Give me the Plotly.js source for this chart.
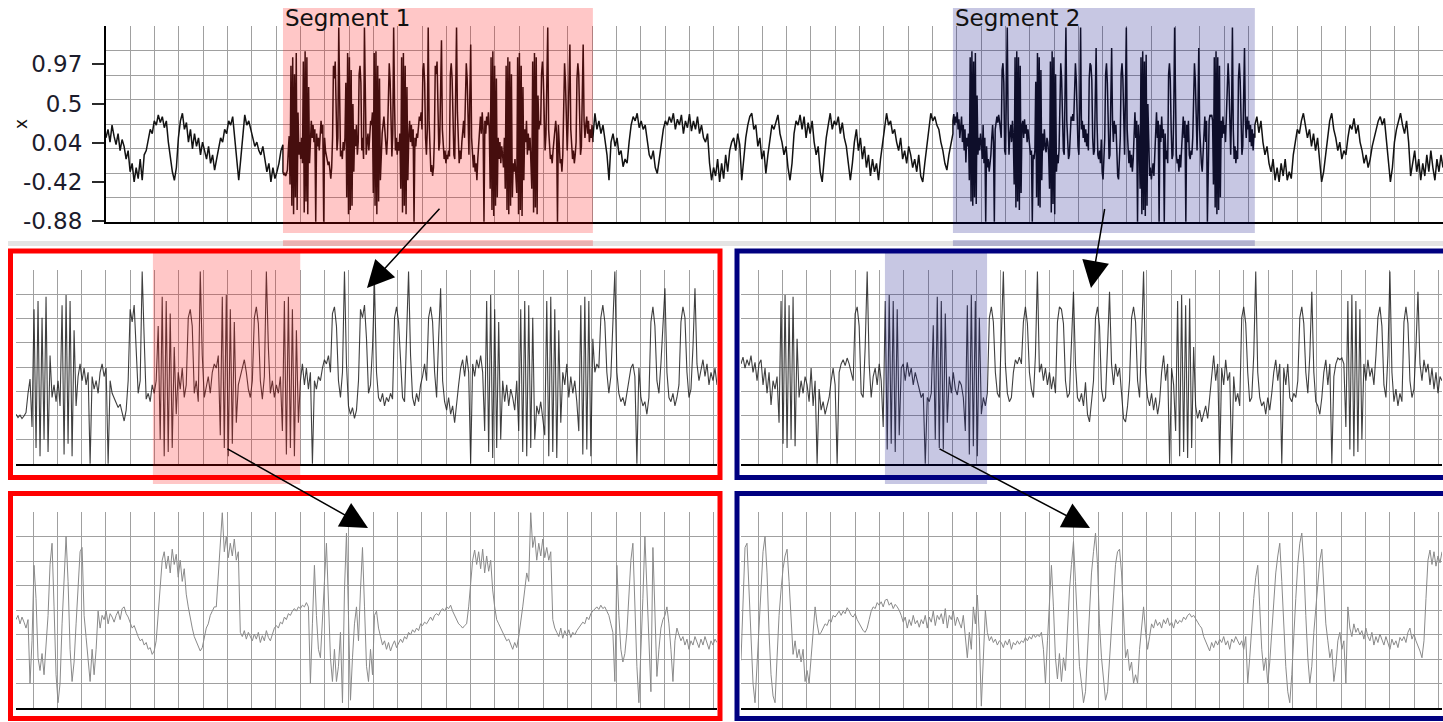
<!DOCTYPE html>
<html><head><meta charset="utf-8">
<script src="https://cdn.plot.ly/plotly-3.0.1.min.js"></script>
<style>html,body{margin:0;padding:0;background:#fff;overflow:hidden}#chart{width:1443px;height:722px}</style>
</head><body><div id="chart"></div>
<script>
// ---------------- DATA ----------------
// y tick labels of the overview panel
const yTickVals = [-0.88, -0.42, 0.04, 0.5, 0.97];
const yTickText = ['-0.88', '-0.42', '0.04', '0.5', '0.97'];

// segment / sub-segment time bounds (time units of the overview axis)
const seg1 = [7.28, 20.03];
const seg2 = [34.84, 47.26];
const sub1 = [9.77, 12.45];
const sub2 = [37.39, 39.20];
const T_END = 55;

// quiet stretches of the overview signal
const quietA = [0.10,0.20,0.05,0.25,0.12,0.02,0.15,-0.05,0.08,0.00,
-0.15,-0.05,-0.30,-0.20,-0.42,-0.25,-0.38,-0.15,-0.40,-0.10,
-0.05,0.10,0.20,0.15,0.30,0.25,0.37,0.28,0.35,0.22,
0.30,0.05,-0.15,-0.30,-0.40,-0.25,0.10,0.30,0.39,0.20,
0.28,0.05,0.20,-0.03,0.15,0.00,0.10,-0.10,0.05,-0.05,
-0.15,0.00,-0.20,-0.10,-0.28,-0.15,0.00,0.10,0.05,0.20,
0.15,0.30,0.25,0.35,0.10,-0.20,-0.40,-0.15,0.10,0.37,
0.25,0.30,0.20,0.10,0.00,0.05,-0.05,-0.10,0.00,-0.15,
-0.30,-0.20,-0.42,-0.25,-0.38,-0.30,-0.20,-0.05,0.02];

const quietB = [0.10,0.39,0.20,0.30,0.15,0.25,0.07,-0.10,-0.40,0.05,
0.15,0.00,0.10,-0.10,-0.05,-0.24,-0.15,-0.20,0.05,0.25,
0.35,0.30,0.39,0.22,0.30,0.20,0.25,0.05,-0.10,-0.15,
-0.05,-0.25,-0.32,-0.15,0.05,0.20,0.30,0.25,0.35,0.28,
0.39,0.20,0.32,0.25,0.37,0.15,0.30,0.22,0.38,0.18,
0.30,0.20,0.35,0.15,0.25,0.10,0.05,0.15,-0.20,-0.40,
-0.25,-0.35,-0.15,-0.42,-0.20,-0.38,-0.10,-0.30,-0.05,0.05,
0.10,-0.05,0.15,0.02,-0.40,-0.10,0.10,0.25,0.35,0.39,
0.20,0.25,0.00,0.10,-0.15,-0.05,-0.32,-0.10,0.10,0.25,
0.20,0.30,0.37,0.15,0.05,-0.10,0.00,-0.25,-0.40,-0.20,
0.15,0.30,0.25,0.37,0.20,0.35,0.10,0.28,0.15,0.30,
0.05,-0.10,0.00,-0.30,-0.42,-0.15,0.10,0.25,0.39,0.20,
0.30,0.25,0.35,0.15,0.28,0.10,0.00,-0.20,-0.40,-0.20,
0.05,0.20,-0.05,0.10,-0.15,0.00,-0.25,-0.10,-0.35,-0.15,
-0.30,-0.20,-0.40,-0.15,0.05,0.20,0.39,0.25,0.30,0.15,
0.20,0.05,-0.05,0.10,-0.15,-0.05,-0.20,0.00,-0.10,-0.25,
-0.15,-0.30,-0.10,-0.35,-0.42,-0.20,0.00,0.20,0.39,0.30,
0.35,0.25,0.20,0.05,-0.05,-0.20,-0.28,-0.10,0.05,0.15];

const quietC = [0.25,0.35,0.16,0.30,0.05,-0.10,0.00,-0.20,-0.30,-0.15,
-0.40,-0.25,-0.42,-0.20,-0.35,-0.15,-0.40,-0.30,-0.38,-0.10,
0.05,0.20,0.15,0.30,0.39,0.25,0.10,0.20,0.00,0.15,
-0.05,0.10,-0.20,-0.42,-0.30,-0.10,0.15,0.30,0.39,0.20,
0.10,-0.05,0.05,-0.15,-0.05,-0.10,0.10,0.25,0.20,0.33,
0.15,0.25,0.05,-0.05,-0.20,-0.10,-0.25,-0.15,0.00,0.10,
0.20,0.30,0.35,0.25,0.33,0.10,-0.20,-0.42,-0.25,0.05,
0.20,0.30,0.39,0.25,0.15,0.30,0.05,-0.35,-0.20,-0.05,
-0.30,-0.15,-0.40,-0.20,-0.35,-0.10,-0.30,-0.05,-0.25,-0.40,-0.15,-0.30,-0.10,-0.25];

// Segment 1 in detail (middle-left panel)
const seg1Detail = [-0.30,-0.34,-0.31,-0.35,-0.32,-0.28,-0.05,0.12,-0.45,0.95,
-0.70,1.05,-0.80,0.85,-0.60,1.10,-0.75,0.40,-0.10,0.05,
-0.15,0.10,-0.20,1.00,-0.78,1.12,-0.65,1.05,-0.80,0.70,
-0.20,0.15,0.30,0.10,0.25,0.05,0.20,-0.89,0.15,0.00,
0.10,-0.05,0.20,0.30,0.15,0.25,-0.89,0.10,-0.05,-0.10,
-0.15,-0.22,-0.18,-0.30,-0.38,-0.25,0.10,0.95,0.80,1.00,
0.40,-0.05,0.10,1.40,0.60,-0.12,-0.05,-0.15,0.05,-0.05,
0.10,0.75,-0.60,1.10,-0.80,1.05,-0.75,0.90,-0.70,0.50,
-0.30,0.20,0.00,0.25,-0.10,0.05,0.85,0.95,0.75,-0.05,
0.10,-0.15,1.40,0.40,-0.10,0.05,0.15,-0.05,0.20,0.30,
0.25,0.40,-0.55,1.10,-0.70,1.12,-0.80,0.95,-0.65,0.80,
-0.40,0.05,0.15,0.25,0.35,0.20,0.00,-0.10,0.10,0.85,
0.98,0.78,0.10,-0.12,0.15,1.40,0.50,-0.05,0.10,-0.10,
0.05,-0.05,0.15,-0.50,1.05,-0.78,1.10,-0.70,0.95,-0.80,
0.70,-0.40,0.10,0.30,0.05,0.25,0.00,0.20,-0.89,0.10,
0.00,0.15,0.10,0.25,0.35,0.30,0.40,0.20,0.90,0.98,
0.75,0.10,-0.10,0.20,1.40,0.30,-0.20,-0.30,-0.22,-0.35,
-0.25,0.10,0.95,0.85,1.00,0.60,-0.05,0.05,0.50,1.25,
0.20,-0.10,-0.15,-0.05,-0.20,-0.10,-0.15,-0.05,-0.12,0.85,
0.98,0.80,0.30,-0.10,-0.15,0.60,1.40,0.40,-0.10,-0.20,
-0.05,-0.15,0.05,0.15,0.30,0.10,0.85,0.98,0.80,0.20,
-0.10,0.60,1.20,0.10,-0.15,-0.25,-0.10,-0.30,-0.20,-0.40,
-0.15,0.05,0.25,0.35,0.15,0.40,0.20,-0.89,0.30,0.15,
0.35,0.25,0.40,0.20,-0.50,1.05,-0.75,1.12,-0.82,0.95,
-0.70,0.80,-0.60,0.10,-0.15,0.05,-0.20,0.00,-0.10,-0.25,
0.10,-0.50,0.95,-0.75,1.05,-0.80,1.00,-0.70,0.85,-0.60,
-0.20,-0.30,-0.15,-0.35,-0.55,1.05,-0.80,1.10,-0.75,0.95,
-0.82,0.70,-0.40,0.20,0.05,0.30,-0.10,0.15,-0.05,0.10,
-0.15,-0.50,1.00,-0.78,1.10,-0.72,1.05,-0.80,0.60,0.20,
0.30,0.25,0.85,1.00,0.80,0.20,-0.05,0.15,0.70,1.40,
0.20,-0.05,-0.15,-0.10,-0.20,-0.05,0.10,0.25,0.30,0.15,
-0.89,0.25,-0.10,-0.20,-0.15,-0.30,-0.10,0.80,0.98,0.75,
0.10,-0.05,0.30,0.70,1.20,0.20,-0.10,-0.15,-0.05,-0.20,
-0.10,0.05,0.80,0.98,0.85,0.20,-0.10,0.00,0.50,1.20,
0.30,0.10,0.25,0.35,0.15,0.30,0.05,0.20,0.10,0.25,0.05];

// Segment 2 in detail (middle-right panel)
const seg2Detail = [0.30,0.38,0.25,0.35,0.28,0.40,0.20,0.32,0.10,0.30,
0.35,0.05,0.25,-0.05,0.20,-0.19,0.10,0.00,0.15,-0.40,
1.05,-0.65,1.12,-0.70,1.00,-0.60,1.10,-0.68,0.60,-0.10,
0.10,-0.05,0.15,0.05,-0.15,0.25,-0.20,0.10,-0.89,0.00,
-0.25,-0.15,-0.30,-0.20,-0.10,0.10,0.25,0.05,-0.89,0.20,
0.30,0.35,0.28,0.37,0.30,0.20,0.10,0.90,0.98,0.75,
-0.05,-0.10,0.50,1.40,0.30,-0.10,0.15,0.25,0.05,0.30,
0.10,-0.45,1.05,-0.72,1.12,-0.65,1.05,-0.75,0.95,-0.55,
0.25,0.30,0.10,0.32,0.15,0.25,0.05,0.20,0.10,0.00,
-0.10,-0.05,-0.89,-0.10,-0.15,-0.05,0.76,-0.60,1.10,-0.70,
1.05,-0.72,0.90,-0.40,0.15,-0.05,0.20,0.00,-0.07,0.10,
0.05,-0.10,-0.50,1.00,-0.78,1.12,-0.68,1.05,-0.80,0.85,
-0.30,-0.10,-0.20,-0.05,0.85,0.98,0.80,0.20,-0.05,-0.10,
0.60,1.40,0.30,-0.05,-0.15,-0.10,0.20,0.35,0.30,0.38,
0.30,0.80,0.98,0.78,0.20,0.00,-0.10,0.40,1.40,0.20,
0.30,0.10,0.25,0.05,0.20,0.00,0.15,-0.05,0.80,0.98,
0.95,0.78,0.10,-0.10,-0.05,0.50,1.16,0.30,-0.10,-0.15,
-0.05,-0.20,0.08,-0.30,-0.39,-0.15,0.10,0.85,0.98,0.75,
0.00,-0.15,-0.10,0.50,1.16,0.30,0.05,0.30,0.15,0.25,
-0.10,-0.35,-0.39,-0.20,0.10,0.85,0.98,0.80,0.10,-0.10,
0.60,1.40,0.20,-0.10,-0.20,-0.05,-0.25,-0.10,-0.30,-0.15,
0.20,0.40,0.10,0.30,-0.89,0.25,0.05,-0.50,1.05,-0.80,
1.12,-0.75,1.00,-0.82,1.08,-0.70,0.50,-0.20,-0.35,-0.25,
-0.39,-0.30,-0.20,-0.35,-0.10,0.20,0.40,0.10,0.30,-0.89,
0.25,0.05,0.35,0.10,0.20,-0.89,0.15,-0.15,-0.05,-0.20,
0.85,0.98,0.78,0.20,-0.15,-0.10,0.40,1.40,0.20,-0.10,
-0.20,-0.15,-0.30,-0.10,-0.25,-0.05,0.20,0.35,0.10,0.30,
-0.89,0.25,0.05,0.30,-0.10,-0.15,-0.05,-0.10,0.10,0.85,
0.98,0.78,0.20,-0.05,0.40,1.16,0.20,-0.15,-0.20,-0.30,
-0.10,0.20,0.35,0.05,0.30,-0.89,0.15,0.30,0.37,0.35,
0.37,0.30,-0.45,1.05,-0.72,1.12,-0.80,1.05,-0.75,0.95,
-0.60,0.30,0.10,0.35,0.15,0.25,0.05,0.40,0.85,0.98,
0.75,0.05,-0.10,0.40,1.40,0.20,-0.15,0.00,-0.20,-0.05,
-0.15,0.80,0.98,0.78,0.10,-0.10,0.00,0.50,1.16,0.30,
0.10,0.35,0.20,0.30,0.05,0.25,0.00,0.20,-0.05,0.15,0.10];

// sub-segment of segment 1 (bottom-left panel)
const sub1Detail = [0.15,0.20,0.10,0.18,0.12,0.05,0.15,-0.60,-0.10,0.79,
0.40,-0.30,-0.45,-0.25,-0.50,-0.20,0.20,0.80,1.05,0.30,
-0.50,-0.83,-0.60,0.10,0.70,1.13,0.60,-0.20,-0.58,-0.35,
0.10,0.50,0.95,1.00,0.20,-0.06,-0.30,-0.58,-0.20,-0.50,
-0.20,0.25,0.05,0.20,0.15,0.25,0.10,0.22,0.18,0.12,
0.20,0.25,0.15,0.28,0.30,0.22,0.18,0.10,0.05,0.08,
0.00,-0.05,-0.10,-0.08,-0.15,-0.12,-0.20,-0.18,-0.26,-0.22,
-0.10,0.20,0.55,0.85,0.95,0.75,0.90,0.70,0.98,0.80,
0.92,0.65,0.85,0.60,0.75,0.45,0.30,0.15,0.05,-0.05,
-0.10,-0.15,-0.22,-0.18,-0.05,0.05,0.10,0.20,0.25,0.30,
0.30,0.70,1.00,1.41,0.95,1.13,0.88,1.05,0.90,1.10,
0.85,0.95,0.00,-0.05,0.02,-0.08,0.00,-0.05,-0.10,-0.02,
-0.08,0.00,-0.12,-0.04,-0.10,0.02,-0.06,-0.10,-0.02,0.05,
0.08,0.05,0.12,0.10,0.18,0.15,0.22,0.20,0.25,0.28,
0.25,0.30,0.28,0.32,0.30,0.35,0.30,-0.60,0.10,0.79,
0.20,-0.20,-0.30,0.10,0.60,1.05,0.40,-0.30,-0.58,-0.20,
-0.58,-0.40,0.00,-0.83,0.50,1.17,0.20,-0.80,-0.30,0.10,
0.30,-0.10,0.50,1.00,0.30,-0.40,-0.58,-0.20,-0.50,0.20,
0.25,0.05,-0.05,-0.15,-0.10,-0.20,-0.12,-0.22,-0.15,-0.10,
-0.18,-0.12,-0.08,-0.12,-0.05,-0.08,0.00,-0.03,0.03,0.00,
0.05,0.02,0.10,0.08,0.12,0.10,0.15,0.18,0.14,0.20,
0.22,0.20,0.25,0.28,0.25,0.30,0.28,0.32,0.25,0.20,
0.15,0.10,0.08,0.05,0.08,0.10,0.30,0.60,0.85,0.97,
0.80,0.95,0.75,0.98,0.70,0.90,0.72,0.85,0.50,0.30,
0.15,0.10,0.05,0.00,-0.05,-0.10,-0.08,-0.15,-0.20,-0.12,
-0.18,-0.05,0.10,0.30,0.50,0.70,0.60,1.41,1.00,1.13,
0.85,1.05,0.90,1.10,0.88,1.00,0.85,0.95,0.15,0.05,
0.00,-0.05,0.05,-0.07,0.02,-0.04,0.03,-0.06,0.00,-0.03,
0.02,0.05,0.08,0.12,0.10,0.18,0.15,0.22,0.25,0.28,
0.30,0.27,0.32,0.28,0.30,0.25,0.20,0.10,0.00,-0.58,
0.79,0.20,-0.20,-0.35,-0.25,0.00,0.50,0.85,1.05,0.30,
-0.40,-0.83,-0.30,0.40,1.13,0.50,-0.20,-0.70,1.00,0.20,
-0.52,-0.20,0.05,0.15,0.20,0.30,0.10,-0.20,-0.58,-0.10,
0.05,-0.03,-0.10,-0.05,-0.15,-0.08,-0.20,-0.10,-0.15,-0.05,
-0.12,-0.18,-0.08,-0.15,-0.05,-0.12,-0.20,-0.10,-0.15,-0.08,-0.12];

// sub-segment of segment 2 (bottom-right panel)
const sub2Detail = [-0.33,0.40,1.00,1.05,0.50,-0.20,-0.60,-0.83,-0.40,0.10,
0.60,0.95,1.13,0.70,0.00,-0.50,-0.75,-0.83,-0.30,0.20,
0.50,0.75,0.90,0.98,0.60,0.10,-0.26,-0.10,-0.30,-0.20,
-0.35,-0.20,-0.58,-0.45,-0.60,-0.30,0.00,0.30,0.10,-0.03,
0.00,0.05,0.10,0.08,0.15,0.12,0.20,0.18,0.22,0.25,
0.20,0.25,0.22,0.29,0.25,0.20,0.18,0.22,0.15,0.10,
0.05,0.02,0.00,0.05,0.15,0.25,0.30,0.28,0.35,0.32,
0.36,0.30,0.38,0.39,0.32,0.35,0.28,0.33,0.30,0.26,
0.20,0.12,0.18,0.05,0.15,0.08,0.20,0.10,0.14,0.06,
0.15,0.10,0.20,0.05,0.18,0.12,0.25,0.08,0.20,0.15,
0.22,0.10,0.28,0.05,0.20,0.15,0.25,0.08,0.18,0.12,
0.05,0.20,-0.10,-0.30,0.00,-0.20,0.30,0.10,0.44,-0.05,
-0.87,-0.20,0.26,0.00,-0.10,-0.05,-0.12,-0.08,-0.15,-0.10,
-0.12,-0.18,-0.10,-0.15,-0.08,-0.20,-0.12,-0.15,-0.10,-0.14,
-0.10,-0.12,-0.06,-0.10,-0.05,-0.08,-0.02,-0.06,-0.03,-0.05,
0.00,-0.20,-0.60,-0.10,0.40,0.79,0.30,-0.30,-0.55,-0.25,
-0.58,-0.30,-0.45,0.10,0.50,0.80,1.07,0.60,0.00,-0.40,
-0.60,-0.83,-0.70,-0.20,0.30,0.70,0.95,1.17,0.80,0.10,
-0.30,-0.60,-0.80,-0.70,-0.30,0.10,0.50,0.80,0.95,0.98,
0.70,0.20,-0.30,-0.20,-0.45,-0.35,-0.60,-0.50,-0.60,-0.20,
0.10,0.30,0.00,-0.20,-0.05,0.10,0.05,0.15,0.08,0.12,
0.05,0.15,0.10,0.17,0.08,0.12,0.05,0.15,0.10,0.14,
0.12,0.18,0.15,0.20,0.22,0.18,0.20,0.15,0.12,0.08,
0.05,-0.05,-0.10,-0.15,-0.22,-0.12,-0.18,-0.10,-0.15,-0.08,
-0.12,-0.05,-0.15,-0.10,-0.20,-0.08,-0.12,-0.05,-0.10,-0.15,
-0.10,-0.20,-0.05,-0.60,-0.30,0.10,0.40,0.65,0.79,0.30,
-0.20,-0.45,-0.30,-0.60,-0.35,0.00,0.40,0.70,0.90,1.05,
0.60,0.10,-0.40,-0.70,-0.83,-0.50,0.00,0.40,0.80,1.05,
1.17,0.80,0.20,-0.30,-0.60,-0.40,0.00,0.30,0.60,0.85,
0.98,0.60,0.10,-0.10,-0.30,-0.20,-0.58,-0.40,-0.10,0.00,
-0.20,-0.10,-0.60,0.30,0.05,-0.05,0.10,0.00,0.05,-0.03,
0.02,-0.08,0.05,-0.05,-0.10,0.00,-0.15,-0.05,-0.12,-0.02,
-0.08,-0.15,-0.05,-0.12,-0.20,-0.08,-0.15,-0.10,-0.18,-0.06,
-0.10,-0.05,-0.12,0.00,0.05,-0.08,-0.02,-0.10,-0.15,-0.22,
-0.30,-0.10,0.40,0.85,0.97,0.80,0.95,0.78,0.90,0.82,0.95];

// ---------------- LAYOUT CONSTANTS ----------------
const W = 1443, H = 722;
const px = v => v / W;
const py = v => 1 - v / H;
const Y_RANGE = [-0.892, 1.4185];
const Y_GRID0 = -0.892, Y_GRID_STEP = 0.28875;
const GRID_OFFSET = 0.7, GRID_COUNT = 28.85;
const GRID_COLOR = '#a0a0a0';
const FONT = 'DejaVu Sans, Verdana, sans-serif';

function times(vals, t0, t1) {
  const n = vals.length;
  return vals.map((_, i) => t0 + (t1 - t0) * i / (n - 1));
}

const tTop = [].concat(
  times(quietA, 0, seg1[0]),
  times(seg1Detail, seg1[0], seg1[1]),
  times(quietB, seg1[1], seg2[0]),
  times(seg2Detail, seg2[0], seg2[1]),
  times(quietC, seg2[1], T_END));
const vTop = [].concat(quietA, seg1Detail, quietB, seg2Detail, quietC);

const traces = [
  {type: 'scatter', mode: 'lines', x: tTop, y: vTop, xaxis: 'x', yaxis: 'y',
   line: {color: '#121212', width: 1.5}, hoverinfo: 'skip', showlegend: false},
  {type: 'scatter', mode: 'lines', x: times(seg1Detail, seg1[0], seg1[1]), y: seg1Detail, xaxis: 'x2', yaxis: 'y3',
   line: {color: 'rgba(30,30,30,0.85)', width: 1.1}, hoverinfo: 'skip', showlegend: false},
  {type: 'scatter', mode: 'lines', x: times(seg2Detail, seg2[0], seg2[1]), y: seg2Detail, xaxis: 'x3', yaxis: 'y4',
   line: {color: 'rgba(30,30,30,0.85)', width: 1.1}, hoverinfo: 'skip', showlegend: false},
  {type: 'scatter', mode: 'lines', x: times(sub1Detail, sub1[0], sub1[1]), y: sub1Detail, xaxis: 'x4', yaxis: 'y5',
   line: {color: '#8a8a8a', width: 1}, hoverinfo: 'skip', showlegend: false},
  {type: 'scatter', mode: 'lines', x: times(sub2Detail, sub2[0], sub2[1]), y: sub2Detail, xaxis: 'x5', yaxis: 'y6',
   line: {color: '#8a8a8a', width: 1}, hoverinfo: 'skip', showlegend: false}
];

function gridX(dom, anchor, rng, offsetFrac, count) {
  const step = (rng[1] - rng[0]) / count;
  return {domain: dom, anchor: anchor, range: rng, tick0: rng[0] + offsetFrac * step, dtick: step,
    showgrid: true, gridcolor: GRID_COLOR, gridwidth: 1, zeroline: false, showticklabels: false, ticks: '',
    showline: true, linecolor: '#000', linewidth: 2, fixedrange: true};
}
function gridY(dom, anchor) {
  return {domain: dom, anchor: anchor, range: Y_RANGE, tick0: Y_GRID0, dtick: Y_GRID_STEP,
    showgrid: true, gridcolor: GRID_COLOR, gridwidth: 1, zeroline: false, showticklabels: false, ticks: '',
    showline: false, fixedrange: true};
}

const domTopY = [py(222), py(26)];
const domMidY = [py(464), py(270)];
const domBotY = [py(708), py(512)];
const domLeftX = [px(16), px(717)];
const domRightX = [px(741), px(1442)];

const RED = 'rgb(255,0,0)', NAVY = 'rgb(0,0,128)';
const shapes = [
  {type: 'rect', xref: 'paper', yref: 'paper', x0: px(8), x1: 1, y0: py(246), y1: py(241),
   fillcolor: '#e4e4e4', line: {width: 0}, layer: 'below'},
  // segment highlights on the overview
  {type: 'rect', xref: 'x', yref: 'paper', x0: seg1[0], x1: seg1[1], y0: py(233), y1: py(8),
   fillcolor: RED, opacity: 0.22, line: {width: 0}, layer: 'above'},
  {type: 'rect', xref: 'x', yref: 'paper', x0: seg1[0], x1: seg1[1], y0: py(246), y1: py(240),
   fillcolor: RED, opacity: 0.22, line: {width: 0}, layer: 'above'},
  {type: 'rect', xref: 'x', yref: 'paper', x0: seg2[0], x1: seg2[1], y0: py(233), y1: py(8),
   fillcolor: NAVY, opacity: 0.22, line: {width: 0}, layer: 'above'},
  {type: 'rect', xref: 'x', yref: 'paper', x0: seg2[0], x1: seg2[1], y0: py(246), y1: py(240),
   fillcolor: NAVY, opacity: 0.22, line: {width: 0}, layer: 'above'},
  // sub-segment highlights in the segment panels
  {type: 'rect', xref: 'x2', yref: 'paper', x0: sub1[0], x1: sub1[1], y0: py(484), y1: py(250),
   fillcolor: RED, opacity: 0.22, line: {width: 0}, layer: 'above'},
  {type: 'rect', xref: 'x3', yref: 'paper', x0: sub2[0], x1: sub2[1], y0: py(484), y1: py(250),
   fillcolor: NAVY, opacity: 0.22, line: {width: 0}, layer: 'above'},
  // panel frames
  {type: 'rect', xref: 'paper', yref: 'paper', x0: px(10.5), x1: px(720), y0: py(477.5), y1: py(251),
   fillcolor: 'rgba(0,0,0,0)', line: {color: RED, width: 5}, layer: 'above'},
  {type: 'rect', xref: 'paper', yref: 'paper', x0: px(10.5), x1: px(720), y0: py(718.5), y1: py(493.5),
   fillcolor: 'rgba(0,0,0,0)', line: {color: RED, width: 5}, layer: 'above'},
  {type: 'rect', xref: 'paper', yref: 'paper', x0: px(737), x1: px(1452), y0: py(477.5), y1: py(251),
   fillcolor: 'rgba(0,0,0,0)', line: {color: NAVY, width: 5}, layer: 'above'},
  {type: 'rect', xref: 'paper', yref: 'paper', x0: px(737), x1: px(1452), y0: py(718.5), y1: py(493.5),
   fillcolor: 'rgba(0,0,0,0)', line: {color: NAVY, width: 5}, layer: 'above'}
];

function arrow(headX, headY, tailX, tailY) {
  return {xref: 'paper', yref: 'paper', x: px(headX), y: py(headY), ax: tailX - headX, ay: tailY - headY,
    axref: 'pixel', ayref: 'pixel', text: ' ', font: {size: 1}, showarrow: true,
    arrowhead: 2, arrowsize: 3.6, arrowwidth: 1.5, arrowcolor: '#000', standoff: 0, startstandoff: 0};
}

const annotations = [
  {xref: 'x', yref: 'paper', x: seg1[0], y: py(18), xanchor: 'left', yanchor: 'middle', showarrow: false,
   text: 'Segment 1', font: {family: FONT, size: 23, color: '#111'}},
  {xref: 'x', yref: 'paper', x: seg2[0], y: py(18), xanchor: 'left', yanchor: 'middle', showarrow: false,
   text: 'Segment 2', font: {family: FONT, size: 23, color: '#111'}},
  {xref: 'paper', yref: 'paper', x: px(21), y: py(124), xanchor: 'center', yanchor: 'middle', showarrow: false,
   text: 'x', textangle: -90, font: {family: FONT, size: 17, color: '#111'}},
  arrow(367, 288, 441, 207),
  arrow(1091, 288, 1105, 207),
  arrow(368, 528, 226, 448),
  arrow(1090, 528, 938, 448)
];

const topY = {domain: domTopY, anchor: 'x', range: Y_RANGE,
  tickmode: 'array', tickvals: yTickVals, ticktext: yTickText,
  ticks: 'outside', ticklen: 12, tickwidth: 1.5, tickcolor: '#2a2a2a',
  showline: true, linecolor: '#000', linewidth: 2, showgrid: false, zeroline: false,
  tickfont: {family: FONT, size: 23, color: '#1c1c2c'}, ticklabelstandoff: 5, fixedrange: true,
  minor: {tickmode: 'linear', tick0: Y_GRID0, dtick: Y_GRID_STEP, showgrid: true,
          gridcolor: GRID_COLOR, gridwidth: 1, ticks: ''}};

const layout = {
  width: W, height: H, margin: {l: 0, r: 0, t: 0, b: 0},
  paper_bgcolor: '#fff', plot_bgcolor: 'rgba(0,0,0,0)', showlegend: false,
  xaxis: gridX([px(106), 1], 'y', [0, T_END], 0, T_END),
  yaxis: topY,
  xaxis2: gridX(domLeftX, 'y3', seg1, GRID_OFFSET, GRID_COUNT),
  yaxis3: gridY(domMidY, 'x2'),
  xaxis3: gridX(domRightX, 'y4', seg2, GRID_OFFSET, GRID_COUNT),
  yaxis4: gridY(domMidY, 'x3'),
  xaxis4: gridX(domLeftX, 'y5', sub1, GRID_OFFSET, GRID_COUNT),
  yaxis5: gridY(domBotY, 'x4'),
  xaxis5: gridX(domRightX, 'y6', sub2, GRID_OFFSET, GRID_COUNT),
  yaxis6: gridY(domBotY, 'x5'),
  shapes: shapes,
  annotations: annotations
};

Plotly.newPlot('chart', traces, layout, {displayModeBar: false, staticPlot: true});
</script>
</body></html>
